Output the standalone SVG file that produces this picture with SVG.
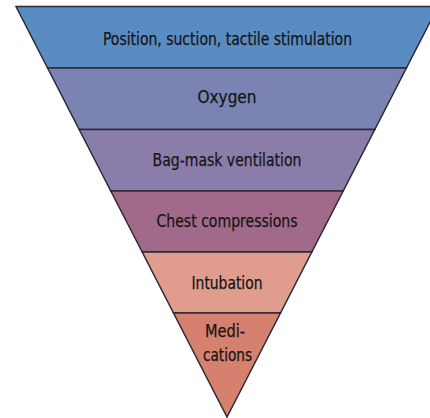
<svg xmlns="http://www.w3.org/2000/svg" width="430" height="418" viewBox="0 0 430 418">
<style>
.band{stroke:#2b2b33;stroke-width:1.5;stroke-linejoin:miter}
.lbl{font-family:"DejaVu Sans Condensed","Liberation Sans",sans-serif;font-size:18px;fill:#151515;stroke:#151515;stroke-width:0.25;text-anchor:middle}
</style>
<rect width="430" height="418" fill="#ffffff"/>
<g id="band1">
<polygon class="band" points="16,6.5 438,6.5 406.4,68 47.6,68" fill="#5a8cc4"/>
<text class="lbl" x="227.5" y="45" textLength="249" lengthAdjust="spacingAndGlyphs">Position, suction, tactile stimulation</text>
</g>
<g id="band2">
<polygon class="band" points="47.6,68 406.4,68 374.8,129.5 79.2,129.5" fill="#7a83b2"/>
<text class="lbl" x="227" y="103" textLength="59" lengthAdjust="spacingAndGlyphs">Oxygen</text>
</g>
<g id="band3">
<polygon class="band" points="79.2,129.5 374.8,129.5 343.2,191 110.8,191" fill="#8b7daa"/>
<text class="lbl" x="227" y="166" textLength="149" lengthAdjust="spacingAndGlyphs">Bag-mask ventilation</text>
</g>
<g id="band4">
<polygon class="band" points="110.8,191 343.2,191 311.8,252 142.2,252" fill="#a16a8a"/>
<text class="lbl" x="227" y="227" textLength="141" lengthAdjust="spacingAndGlyphs">Chest compressions</text>
</g>
<g id="band5">
<polygon class="band" points="142.2,252 311.8,252 280.5,313 173.5,313" fill="#e09d8e"/>
<text class="lbl" x="227" y="289" textLength="71" lengthAdjust="spacingAndGlyphs">Intubation</text>
</g>
<g id="band6">
<polygon class="band" points="173.5,313 280.5,313 227,417" fill="#d6806f"/>
<text class="lbl" x="225" y="337" textLength="40" lengthAdjust="spacingAndGlyphs">Medi-</text>
<text class="lbl" x="227.5" y="361" textLength="49" lengthAdjust="spacingAndGlyphs">cations</text>
</g>
</svg>
